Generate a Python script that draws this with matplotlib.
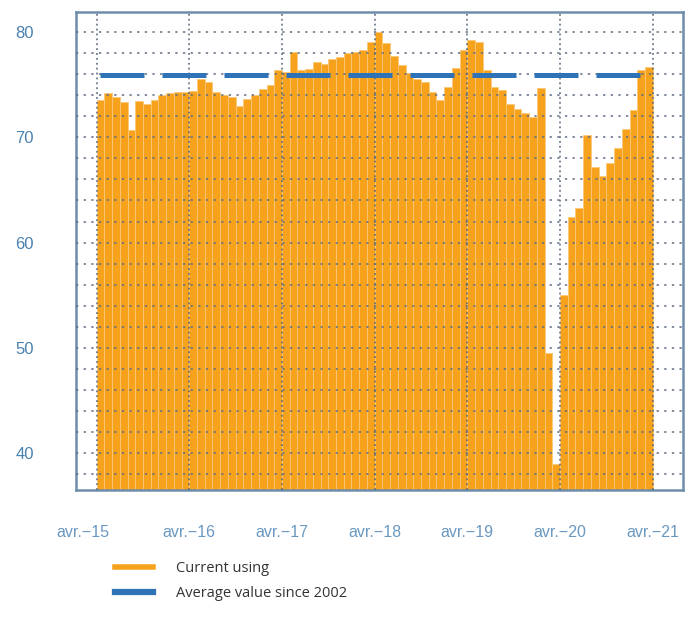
import matplotlib
matplotlib.use('Agg')
import matplotlib.pyplot as plt
import matplotlib.transforms as mtransforms
import numpy as np
from matplotlib.lines import Line2D

# Monthly values, avr.-15 .. mars-21
usage = [
    73.5, 74.2, 73.8, 73.3, 70.7, 73.4, 73.2, 73.5, 74.0, 74.2, 74.3, 74.3,
    74.4, 75.5, 75.2, 74.3, 74.0, 73.8, 73.0, 73.6, 74.0, 74.6, 75.0, 76.4,
    76.2, 78.1, 76.4, 76.5, 77.1, 77.0, 77.4, 77.6, 78.0, 78.1, 78.3, 79.0,
    80.0, 78.9, 77.7, 76.9, 76.1, 75.5, 75.2, 74.3, 73.5, 74.8, 76.6, 78.3,
    79.2, 79.0, 76.4, 74.8, 74.5, 73.2, 72.7, 72.3, 71.9, 74.7, 49.5, 39.0,
    55.0, 62.4, 63.3, 70.2, 67.2, 66.3, 67.6, 69.0, 70.8, 72.6, 76.4, 76.7,
]
avg_since_2002 = 75.9
tick_labels = ['avr.\u221215', 'avr.\u221216', 'avr.\u221217', 'avr.\u221218',
               'avr.\u221219', 'avr.\u221220', 'avr.\u221221']
y_ticks = [40, 50, 60, 70, 80]

ORANGE = '#F7A21C'
BLUE = '#2E72B8'
LABEL_BLUE = '#4A82B0'

fig = plt.figure(figsize=(6.89, 6.26), dpi=100)
ax = fig.add_axes([0.110, 0.217, 0.881, 0.764])

n = len(usage)
x = np.arange(n)
ax.bar(x, usage, width=1.0, align='edge', color=ORANGE,
       edgecolor='#FBC878', linewidth=0.6, zorder=1)
ax.plot([0.4, n], [avg_since_2002, avg_since_2002], color=BLUE, lw=3.6,
        dashes=(8.8, 3.6), solid_capstyle='butt', dash_capstyle='butt', zorder=3)

ax.set_xlim(-2.7, 75.9)
ax.set_ylim(36.5, 81.9)

ax.set_xticks(np.arange(0, 73, 12))
ax.set_xticklabels(tick_labels)
ax.set_yticks(y_ticks)
ax.set_yticks(np.arange(38, 82, 2), minor=True)

ax.tick_params(axis='both', which='both', length=0)
ax.tick_params(axis='y', pad=30, labelsize=12, labelcolor=LABEL_BLUE)
ax.tick_params(axis='x', pad=25, labelsize=11.5, labelcolor='#6A98C0')
for lbl in ax.get_yticklabels() + ax.get_xticklabels():
    lbl.set_family('Liberation Sans')

# shift first x label left a bit like the original
first = ax.get_xticklabels()[0]
first.set_transform(first.get_transform() +
                    mtransforms.ScaledTranslation(-0.14, 0, fig.dpi_scale_trans))

ax.set_axisbelow(False)
ax.grid(axis='y', which='both', linestyle=(0, (1.5, 3.5)), color='#5E6E84', lw=1.1, zorder=2)
ax.grid(axis='x', which='major', linestyle=(0, (1.2, 2)), color='#55657A', lw=1.1, zorder=2)

for s in ax.spines.values():
    s.set_color('#6E8DAA')
    s.set_linewidth(1.8)

handles = [Line2D([], [], color=ORANGE, lw=4),
           Line2D([], [], color=BLUE, lw=4.5)]
fig.legend(handles, ['Current using', 'Average value since 2002'],
           loc='upper left', bbox_to_anchor=(0.148, 0.125), frameon=False,
           handlelength=2.6, handletextpad=1.6, labelspacing=0.7,
           prop={'family': 'Open Sans', 'size': 10.5}, labelcolor='#333333')

fig.savefig('out.png', dpi=100)
